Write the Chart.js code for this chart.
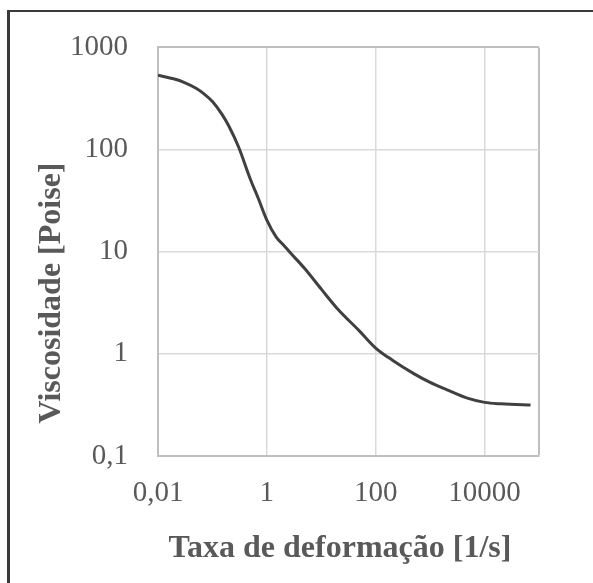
<!DOCTYPE html>
<html>
<head>
<meta charset="utf-8">
<script src="https://cdn.jsdelivr.net/npm/chart.js@4.4.1/dist/chart.umd.min.js"></script>
<style>
  html, body { margin: 0; padding: 0; background: #fff; }
  #wrap { position: relative; width: 593px; height: 583px; overflow: hidden; }
  #viscChart { display: block; }
  #frame { position: absolute; left: 7px; top: 10px; right: -5px; bottom: -5px; border-left: 3px solid #3a3a3a; border-top: 2px solid #3a3a3a; pointer-events: none; }
</style>
</head>
<body>
<div id="wrap">
  <canvas id="viscChart" width="593" height="583"></canvas>
  <div id="frame"></div>
</div>
<script>
// shear rate [1/s] vs viscosity [Poise]
const shearRate = [0.01, 0.02, 0.03, 0.05, 0.07, 0.1, 0.15, 0.2, 0.3, 0.5, 0.7, 1, 1.5, 2, 3, 5, 10, 20, 50, 100, 200, 500, 1000, 2000, 5000, 10000, 20000, 50000, 70000];
const viscosity = [533, 490, 455, 398, 351, 295, 221, 170, 107, 51, 33, 20.4, 13.8, 11.7, 9.2, 6.8, 4.3, 2.75, 1.68, 1.14, 0.87, 0.64, 0.525, 0.447, 0.366, 0.335, 0.324, 0.317, 0.316];

const xTickValues = [0.01, 1, 100, 10000, 100000];
const xTickLabels = ['0,01', '1', '100', '10000', ''];
const yTickValues = [0.1, 1, 10, 100, 1000];
const yTickLabels = ['0,1', '1', '10', '100', '1000'];

const xTitle = 'Taxa de deformação [1/s]';
const yTitle = 'Viscosidade [Poise]';

const labelColor = '#595959';
const gridColor = '#d9d9d9';
const frameColor = '#bfbfbf';

// axis titles are a bit off-centre in the original, so they are drawn by hand
const titlePlugin = {
  id: 'axisTitles',
  afterDraw(chart) {
    const c = chart.ctx;
    const area = chart.chartArea;
    c.save();
    c.font = 'bold 32px "Liberation Serif"';
    c.fillStyle = labelColor;
    c.textAlign = 'center';
    c.textBaseline = 'alphabetic';
    c.fillText(xTitle, area.left + 182, area.bottom + 101);
    c.translate(area.left - 98, area.bottom - 163);
    c.rotate(-Math.PI / 2);
    c.fillText(yTitle, 0, 0);
    c.restore();
  }
};

const ctx = document.getElementById('viscChart').getContext('2d');
new Chart(ctx, {
  type: 'scatter',
  data: {
    datasets: [{
      data: shearRate.map((x, i) => ({ x: x, y: viscosity[i] })),
      showLine: true,
      borderColor: '#404040',
      borderWidth: 3,
      pointRadius: 0,
      cubicInterpolationMode: 'monotone',
      fill: false
    }]
  },
  options: {
    responsive: false,
    animation: false,
    layout: { padding: { top: 42, right: 54, bottom: 0, left: 0 } },
    plugins: { legend: { display: false }, tooltip: { enabled: false } },
    scales: {
      x: {
        type: 'logarithmic',
        min: 0.01,
        max: 100000,
        afterBuildTicks: s => { s.ticks = xTickValues.map(v => ({ value: v })); },
        afterFit: s => { s.height = 127; },
        ticks: {
          padding: 20,
          color: labelColor,
          autoSkip: false,
          maxRotation: 0,
          font: { family: 'Liberation Serif', size: 29 },
          callback: v => { const i = xTickValues.indexOf(v); return i < 0 ? '' : xTickLabels[i]; }
        },
        grid: {
          drawTicks: false,
          color: c => c.tick && c.tick.value === 100000 ? frameColor : gridColor,
          lineWidth: c => c.tick && c.tick.value === 100000 ? 2 : 1.5
        },
        border: { color: frameColor, width: 2 }
      },
      y: {
        type: 'logarithmic',
        min: 0.1,
        max: 1000,
        afterBuildTicks: s => { s.ticks = yTickValues.map(v => ({ value: v })); },
        afterFit: s => { s.width = 158; },
        ticks: {
          padding: 30,
          color: labelColor,
          autoSkip: false,
          font: { family: 'Liberation Serif', size: 29 },
          callback: v => { const i = yTickValues.indexOf(v); return i < 0 ? '' : yTickLabels[i]; }
        },
        grid: {
          drawTicks: false,
          color: c => c.tick && c.tick.value === 1000 ? frameColor : gridColor,
          lineWidth: c => c.tick && c.tick.value === 1000 ? 2 : 1.5
        },
        border: { color: frameColor, width: 2 }
      }
    }
  },
  plugins: [titlePlugin]
});
</script>
</body>
</html>
